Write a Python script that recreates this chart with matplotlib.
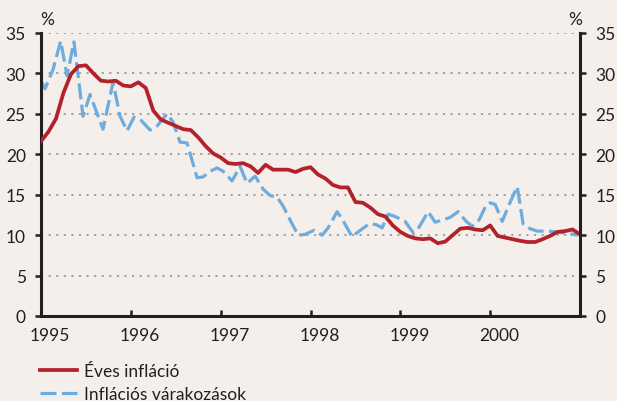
import matplotlib
matplotlib.use('Agg')
import matplotlib.pyplot as plt
import numpy as np

############################################################################
# data
# annual inflation, monthly from Jan 1995 to Jan 2001 (%)
eves = [21.6, 22.8, 24.4, 27.6, 29.9, 30.9, 31.0, 30.0, 29.1, 29.0, 29.1, 28.5,
        28.4, 28.9, 28.2, 25.4, 24.3, 23.9, 23.5, 23.1, 23.0, 22.1, 21.0, 20.1,
        19.6, 18.9, 18.8, 18.9, 18.5, 17.7, 18.7, 18.1, 18.1, 18.1, 17.8, 18.2,
        18.4, 17.5, 17.0, 16.2, 15.9, 15.9, 14.1, 14.0, 13.4, 12.6, 12.3, 11.2,
        10.4, 9.9, 9.6, 9.5, 9.6, 9.0, 9.2, 10.0, 10.8, 10.9, 10.7, 10.6,
        11.2, 9.9, 9.7, 9.5, 9.3, 9.15, 9.15, 9.5, 9.9, 10.4, 10.5, 10.7, 10.1]
evesX = 1995 + np.arange(len(eves))/12.0

# inflation expectations (survey dates, decimal years)
varX = [1995.00, 1995.045, 1995.134, 1995.219, 1995.290, 1995.367, 1995.468,
        1995.546, 1995.690, 1995.802, 1995.880, 1995.958, 1996.036, 1996.114,
        1996.214, 1996.292, 1996.403, 1996.470, 1996.548, 1996.626, 1996.737,
        1996.804, 1996.882, 1996.960, 1997.027, 1997.127, 1997.216, 1997.294,
        1997.383, 1997.472, 1997.550, 1997.628, 1997.695, 1997.795, 1997.862,
        1997.940, 1998.040, 1998.129, 1998.196, 1998.296, 1998.352, 1998.463,
        1998.530, 1998.653, 1998.731, 1998.797, 1998.864, 1998.942, 1999.053,
        1999.143, 1999.198, 1999.310, 1999.388, 1999.477, 1999.555, 1999.644,
        1999.733, 1999.800, 1999.878, 1999.955, 2000.000, 2000.056, 2000.134,
        2000.212, 2000.301, 2000.367, 2000.445, 2000.523, 2000.635, 2000.746,
        2000.857, 2000.980]
varY = [29.1, 28.1, 30.5, 34.0, 29.7, 33.9, 24.7,
        27.4, 23.1, 28.9, 24.7, 22.9, 24.6, 24.2,
        23.0, 23.5, 25.0, 24.0, 21.5, 21.4, 17.1,
        17.2, 17.9, 18.3, 17.9, 16.7, 18.5, 16.4,
        17.3, 15.7, 14.9, 14.7, 13.6, 11.4, 10.0,
        10.1, 10.6, 10.0, 10.9, 12.9, 12.0, 9.8,
        10.4, 11.4, 11.3, 10.9, 12.6, 12.3, 11.7,
        10.3, 10.8, 12.9, 11.6, 11.9, 12.2, 12.9,
        11.7, 11.1, 11.9, 13.7, 14.0, 13.8, 11.7,
        13.8, 16.0, 11.4, 10.8, 10.5, 10.5, 10.4,
        10.2, 10.0]

years = [1995, 1996, 1997, 1998, 1999, 2000]
yticks = [0, 5, 10, 15, 20, 25, 30, 35]

############################################################################
bg = '#f5efec'
ink = '#231f20'
red = '#b3212a'
blue = '#6dacdc'

plt.rcParams['font.family'] = ['Lato', 'DejaVu Sans']
plt.rcParams['font.size'] = 12.5

fig = plt.figure(figsize=(6.17, 4.02), dpi=100)
fig.patch.set_facecolor(bg)
ax = fig.add_axes((41/617, 1 - 317/402, 539/617, 283/402))
ax.set_facecolor(bg)

ax.plot(varX, varY, color=blue, lw=2.3, dashes=(5, 1.7),
        label='Inflációs várakozások', zorder=2)
ax.plot(evesX, eves, color=red, lw=2.7, label='Éves infláció', zorder=3,
        solid_joinstyle='round')

ax.set_xlim(1995, 2001)
ax.set_ylim(0, 35)
ax.set_yticks(yticks)
ax.yaxis.grid(True, color='#9a9a9a', linestyle=(0, (1.2, 3)), lw=1.3)
ax.set_axisbelow(True)

# year ticks inward without labels, labels shifted a bit to the right
ax.set_xticks(years)
ax.set_xticklabels([])
ax.set_xticks([y + 0.1 for y in years], minor=True)
ax.set_xticklabels([str(y) for y in years], minor=True)
ax.tick_params(axis='x', which='major', direction='in', length=4, width=1.8,
               color=ink)
ax.tick_params(axis='x', which='minor', length=0, pad=8, colors=ink)
ax.tick_params(axis='y', direction='out', length=4, width=1.8, pad=7,
               colors=ink)

for s in ['top', 'right']:
    ax.spines[s].set_visible(False)
for s in ['left', 'bottom']:
    ax.spines[s].set_linewidth(2.2)
    ax.spines[s].set_color(ink)

ax2 = ax.twinx()
ax2.set_ylim(0, 35)
ax2.set_yticks(yticks)
ax2.tick_params(axis='y', direction='out', length=4, width=1.8, pad=7,
                colors=ink)
for s in ['top', 'left', 'bottom']:
    ax2.spines[s].set_visible(False)
ax2.spines['right'].set_linewidth(2.2)
ax2.spines['right'].set_color(ink)

fig.text(40/617, 1 - 20/402, '%', ha='left', va='center', color=ink)
fig.text(582/617, 1 - 20/402, '%', ha='right', va='center', color=ink)

h, l = ax.get_legend_handles_labels()
fig.legend(h[::-1], l[::-1], loc='upper left',
           bbox_to_anchor=(40/617, 1 - 364/402), frameon=False,
           handlelength=2.15, handletextpad=0.4, labelspacing=0.43,
           borderaxespad=0, borderpad=0, labelcolor=ink)

fig.savefig('out.png', dpi=100, facecolor=bg)
